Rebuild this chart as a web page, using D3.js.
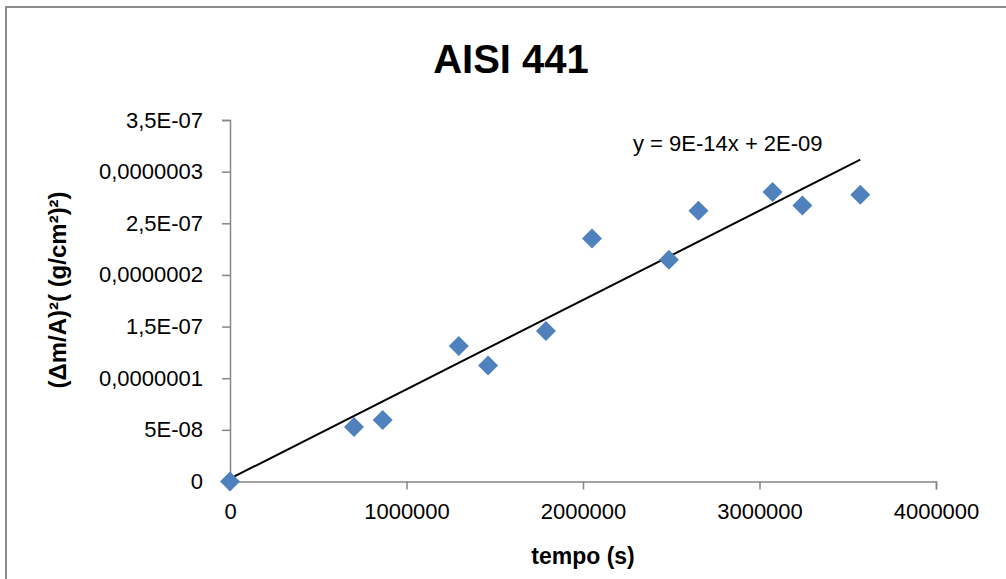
<!DOCTYPE html>
<html>
<head>
<meta charset="utf-8">
<script src="https://cdn.jsdelivr.net/npm/d3@7"></script>
<style>
  html, body { margin: 0; padding: 0; background: #fff; }
  svg { display: block; }
  text { font-family: "Liberation Sans", Arial, sans-serif; fill: #000; }
</style>
</head>
<body>
<svg id="chart" width="1006" height="579"></svg>
<script>
// ---- data ----
const tempo = [0, 702500, 865000, 1296000, 1462000, 1790000, 2051000, 2487000, 2654000, 3074000, 3243000, 3571000];
const massGain = [0, 5.28e-8, 5.96e-8, 1.313e-7, 1.122e-7, 1.458e-7, 2.353e-7, 2.146e-7, 2.621e-7, 2.802e-7, 2.673e-7, 2.776e-7];
const yTicks = [0, 5e-8, 1e-7, 1.5e-7, 2e-7, 2.5e-7, 3e-7, 3.5e-7];
const yTickLabels = ["0", "5E-08", "0,0000001", "1,5E-07", "0,0000002", "2,5E-07", "0,0000003", "3,5E-07"];
const xTicks = [0, 1000000, 2000000, 3000000, 4000000];
const xTickLabels = ["0", "1000000", "2000000", "3000000", "4000000"];
const title = "AISI 441";
const xTitle = "tempo (s)";
const yTitle = "(Δm/A)²( (g/cm²)²)";
const equation = "y = 9E-14x + 2E-09";

// ---- layout ----
const svg = d3.select("#chart");
const plot = { left: 230, right: 936, top: 120, bottom: 481.5 };
const x = d3.scaleLinear().domain([0, 4000000]).range([plot.left, plot.right]);
const y = d3.scaleLinear().domain([0, 3.5e-7]).range([plot.bottom, plot.top]);
const axisColor = "#868686";

// chart border (right/bottom edges fall outside the picture)
svg.append("rect")
  .attr("x", 6).attr("y", 7).attr("width", 1100).attr("height", 700)
  .attr("fill", "none").attr("stroke", "#8c8c8c").attr("stroke-width", 2);

// title
svg.append("text").attr("x", 511).attr("y", 73)
  .attr("text-anchor", "middle").attr("font-weight", "bold")
  .attr("font-size", 40).text(title);

// y axis
const yAxis = d3.axisLeft(y).tickValues(yTicks)
  .tickFormat((d, i) => yTickLabels[i]).tickSize(8).tickPadding(19);
const gy = svg.append("g").attr("transform", `translate(${plot.left},0)`).call(yAxis);
gy.select(".domain").attr("stroke", axisColor).attr("stroke-width", 1.5);
gy.selectAll(".tick line").attr("stroke", axisColor).attr("stroke-width", 1.5);
gy.selectAll(".tick text").attr("font-size", 22).attr("fill", "#000")
  .attr("font-family", "Liberation Sans, Arial, sans-serif");

// x axis
const xAxis = d3.axisBottom(x).tickValues(xTicks)
  .tickFormat((d, i) => xTickLabels[i]).tickSize(8).tickPadding(14);
const gx = svg.append("g").attr("transform", `translate(0,${plot.bottom})`).call(xAxis);
gx.select(".domain").attr("stroke", axisColor).attr("stroke-width", 1.5);
gx.selectAll(".tick line").attr("stroke", axisColor).attr("stroke-width", 1.5);
gx.selectAll(".tick text").attr("font-size", 22).attr("fill", "#000")
  .attr("font-family", "Liberation Sans, Arial, sans-serif");

// axis titles
svg.append("text").attr("x", 583).attr("y", 564)
  .attr("text-anchor", "middle").attr("font-weight", "bold")
  .attr("font-size", 23).text(xTitle);
svg.append("text")
  .attr("transform", "translate(66,290) rotate(-90)")
  .attr("text-anchor", "middle").attr("font-weight", "bold")
  .attr("font-size", 24).text(yTitle);

// linear trendline (least squares)
const n = tempo.length;
const mx = d3.mean(tempo), my = d3.mean(massGain);
let sxy = 0, sxx = 0;
for (let i = 0; i < n; i++) { sxy += (tempo[i] - mx) * (massGain[i] - my); sxx += (tempo[i] - mx) ** 2; }
const slope = sxy / sxx, intercept = my - slope * mx;
const xExt = d3.extent(tempo);
svg.append("line")
  .attr("x1", x(xExt[0])).attr("y1", y(intercept + slope * xExt[0]))
  .attr("x2", x(xExt[1])).attr("y2", y(intercept + slope * xExt[1]))
  .attr("stroke", "#000").attr("stroke-width", 2);

// markers
const diamond = "M0,-10L10,0L0,10L-10,0Z";
svg.append("g").selectAll("path").data(tempo).join("path")
  .attr("d", diamond)
  .attr("transform", (d, i) => `translate(${x(d)},${y(massGain[i])})`)
  .attr("fill", "#4F81BD");

// equation label
svg.append("text").attr("x", 633).attr("y", 151)
  .attr("font-size", 22).text(equation);
</script>
</body>
</html>
